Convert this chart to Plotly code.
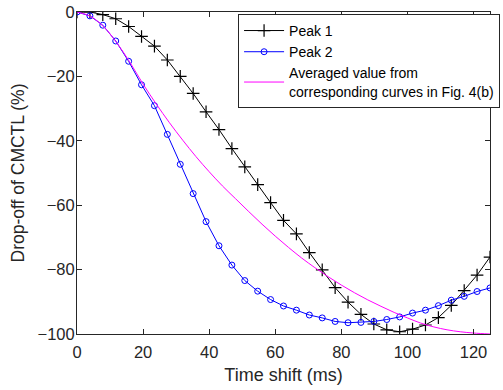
import plotly.graph_objects as go

time_ms = [0, 3.91, 7.81, 11.72, 15.63, 19.53, 23.44, 27.34, 31.25, 35.16, 39.06,
           42.97, 46.88, 50.78, 54.69, 58.59, 62.5, 66.41, 70.31, 74.22, 78.13,
           82.03, 85.94, 89.84, 93.75, 97.66, 101.56, 105.47, 109.38, 113.28,
           117.19, 121.09, 125]

peak1 = [0, 0, -0.8, -2.1, -4.5, -7.6, -10.6, -14.9, -20.0, -25.3, -31.0,
         -36.5, -42.4, -48.1, -53.6, -59.2, -64.7, -68.9, -74.7, -80.1, -85.6,
         -90.1, -93.9, -96.9, -98.7, -99.3, -98.5, -97.2, -94.9, -91.1,
         -86.5, -81.7, -76.1]

peak2 = [0, -1.2, -4.1, -9.0, -15.3, -22.6, -29.1, -38.0, -47.3, -56.4, -65.1,
         -72.6, -78.6, -83.4, -86.7, -89.3, -91.3, -92.6, -94.1, -95.0, -96.1,
         -96.5, -96.4, -96.1, -95.5, -94.7, -93.5, -92.6, -91.2, -89.5,
         -88.3, -86.8, -85.7]

avg_x = [0, 4, 8, 12, 16, 20, 24, 28, 32, 36, 40, 44, 48, 52, 56, 60, 64, 68,
         72, 76, 80, 84, 88, 92, 96, 100, 104, 108, 112, 116, 120, 125]
avg_y = [0, -1.3, -4.5, -9.5, -15.6, -22.4, -28.6, -34.4, -39.8, -44.9, -49.6,
         -54.0, -58.0, -62.0, -65.9, -69.6, -73.1, -76.4, -79.4, -82.2, -84.8,
         -87.2, -89.4, -91.4, -93.3, -95.0, -96.6, -97.8, -98.7, -99.3, -99.7, -100]

x_ticks = [0, 20, 40, 60, 80, 100, 120]
y_ticks = [0, -20, -40, -60, -80, -100]

FONT = "Liberation Sans, Arial, Helvetica, sans-serif"
AX = "#262626"

fig = go.Figure()
fig.add_trace(go.Scatter(
    x=time_ms, y=peak1, mode="lines+markers", name="Peak 1",
    line=dict(color="black", width=1),
    marker=dict(symbol="cross-thin", size=9, line=dict(color="black", width=1.2)),
))
fig.add_trace(go.Scatter(
    x=time_ms, y=peak2, mode="lines+markers", name="Peak 2",
    line=dict(color="#0000FF", width=1),
    marker=dict(symbol="circle-open", size=6, color="#0000FF",
                line=dict(color="#0000FF", width=1)),
))
fig.add_trace(go.Scatter(
    x=avg_x, y=avg_y, mode="lines",
    name="Averaged value from<br>corresponding curves in Fig. 4(b)",
    line=dict(color="#FF00FF", width=1, shape="spline"),
))

fig.update_layout(
    width=503, height=390,
    margin=dict(l=77, r=3, t=7, b=56),
    paper_bgcolor="white", plot_bgcolor="white",
    font=dict(family=FONT, color=AX, size=16),
    showlegend=True,
    legend=dict(
        x=0.39, y=0.994, xanchor="left", yanchor="top",
        bgcolor="white", bordercolor=AX, borderwidth=1,
        font=dict(family=FONT, size=14, color="black"),
        tracegroupgap=0, itemwidth=40,
    ),
)
fig.update_xaxes(
    range=[0, 125], tickvals=x_ticks, ticks="inside", ticklen=5,
    tickcolor=AX, showline=True, linecolor=AX, linewidth=1, mirror="ticks",
    showgrid=False, zeroline=False, ticklabeloverflow="allow",
    ticklabelstandoff=3,
    title=dict(text="Time shift (ms)", font=dict(size=18), standoff=8),
    tickfont=dict(size=16.5),
)
fig.update_yaxes(
    range=[-100, 0], tickvals=y_ticks, ticks="inside", ticklen=5,
    tickcolor=AX, showline=True, linecolor=AX, linewidth=1, mirror="ticks",
    showgrid=False, zeroline=False, ticklabeloverflow="allow",
    ticklabelstandoff=-2,
    title=dict(text="Drop-off of CMCTL (%)", font=dict(size=17.5), standoff=8),
    tickfont=dict(size=16.5),
)

fig.write_html("out.html")
